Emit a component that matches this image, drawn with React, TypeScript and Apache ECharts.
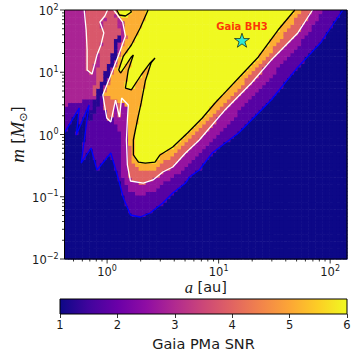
import React, { useEffect, useRef } from 'react';
import * as echarts from 'echarts';

// ---- axis limits ----
const A_MIN = 0.415;
const A_MAX = 141.6;
const M_MIN = 0.01;
const M_MAX = 100;

// ---- contour lines: [a (au), m (Msun)] ----
const contour1 = [
  [130, 100], [81.8, 29.5], [51.3, 12.1], [29.6, 3.58], [15.1, 1.06], [8.75, 0.504],
  [6.71, 0.269], [5.48, 0.208], [5.05, 0.166], [3.88, 0.115], [3.16, 0.0794], [2.43, 0.0548],
  [1.98, 0.0473], [1.62, 0.0509], [1.40, 0.0955], [1.27, 0.186], [1.08, 0.504], [0.811, 0.269],
  [0.718, 0.607], [0.586, 0.348], [0.689, 2.98], [0.529, 0.982], [0.563, 2.67], [0.415, 1.06],
];
const contour3 = [
  [69.5, 100], [51.3, 42.8], [29.6, 15.7], [19.7, 6.72], [11.4, 2.48], [6.71, 0.816],
  [5.05, 0.504], [3.88, 0.301], [3.16, 0.25], [2.58, 0.186], [2.11, 0.166], [1.62, 0.179],
  [1.52, 0.324], [1.49, 0.816], [1.52, 1.71], [1.55, 2.98], [1.35, 3.85], [1.29, 1.91],
  [1.19, 3.58], [1.08, 1.59], [0.994, 1.84], [0.916, 4.31], [1.08, 9.03], [1.27, 18.9],
  [1.46, 38.2], [1.38, 64.1], [1.146, 100],
];
const contour3Loop = [
  [0.623, 100], [0.649, 47.7], [0.662, 22.8], [0.662, 10.9], [0.733, 9.37], [0.811, 18.9],
  [0.880, 27.4], [0.935, 42.8], [0.862, 64.1], [0.954, 80.1], [1.01, 100],
];
const contour6 = [
  [2.33, 100], [1.98, 51.4], [1.65, 27.4], [1.40, 18.2], [1.27, 10.9], [1.32, 9.72],
  [1.46, 12.6], [1.65, 17.6], [1.72, 18.9], [1.55, 10.9], [1.46, 5.58], [1.65, 5.19],
  [2.02, 9.03], [2.43, 14.1], [2.69, 16.9], [2.48, 14.1], [2.20, 7.23], [2.02, 3.21],
  [1.87, 1.71], [1.72, 0.816], [1.72, 0.469], [1.91, 0.361], [2.20, 0.348], [2.69, 0.361],
  [2.98, 0.469], [3.88, 0.63], [5.26, 1.06], [6.19, 1.42], [7.14, 1.84], [9.29, 3.21],
  [15.1, 8.09], [22.7, 17.6], [34.1, 47.7], [48.2, 100],
];
const contour6Small = [[1.22, 100], [1.29, 83.1], [1.46, 80.1], [1.65, 92.9], [1.62, 100]];

// ---- extra colour bands ----
const level2Edge = [
  [86.9, 100], [62.8, 39.7], [37.8, 14.6], [25.2, 5.79], [14.8, 2.21], [8.75, 0.816],
  [6.45, 0.469], [4.75, 0.269], [3.72, 0.2], [2.86, 0.138], [2.20, 0.111], [1.65, 0.115],
  [1.38, 0.2], [1.29, 0.563], [1.29, 1.18], [0.916, 4.31], [1.08, 9.03], [1.27, 18.9],
  [1.46, 38.2], [1.38, 64.1], [1.146, 100],
];
const level5Edge = [
  [56.7, 100], [41.0, 47.7], [27.3, 17.6], [18.2, 8.09], [11.2, 3.21], [8.40, 1.84],
  [7.14, 1.37], [6.07, 0.982], [4.47, 0.563], [3.36, 0.389], [2.86, 0.29], [2.20, 0.259],
  [1.83, 0.29], [1.62, 0.419], [1.59, 0.816], [1.55, 2.67], [1.15, 3.85], [0.954, 4.47],
  [1.10, 9.03], [1.29, 18.2], [1.49, 36.8], [1.40, 64.1], [1.17, 100],
];
const upperLeftEdge = [
  [A_MIN, 100], [1.76, 100], [1.46, 38.2], [1.27, 18.9], [1.08, 9.03], [0.916, 4.31],
  [0.623, 3.58], [A_MIN, 2.98],
];
const brightStripeEdge = [
  [1.01, 100], [1.146, 100], [1.32, 41.1], [1.19, 33.0], [1.08, 18.2], [0.779, 4.0],
  [0.733, 4.15], [0.811, 9.03], [0.88, 22.8], [0.935, 39.7], [0.954, 69.1],
];
const darkStripeEdge = [
  [0.649, 1.59], [0.779, 4.0], [1.08, 18.2], [1.19, 33.0], [1.32, 41.1], [1.22, 18.2],
  [0.88, 4.0], [0.733, 1.71],
];
// SNR value of each band, in drawing order (estimated from the colours)
const bandSNR = [1.75, 2.9, 2.6, 3.7, 1.25, 3.8, 4.0, 5.1, 6.3, 6.3];

// ---- marks / labels ----
const gaiaBH3 = [16.2, 32.7];
const contourLabels = [
  { value: [35.5, 69.1], text: '6', color: '#000000' },
  { value: [60.3, 41.1], text: '3', color: '#ffffff' },
  { value: [86.9, 24.5], text: '1', color: '#0000ff' },
];
const xMajorTicks = [1, 10, 100];
const xMinorTicks = [0.5, 0.6, 0.7, 0.8, 0.9, 2, 3, 4, 5, 6, 7, 8, 9, 20, 30, 40, 50, 60, 70, 80, 90];
const yMajorTicks = [0.01, 0.1, 1, 10, 100];
const yMinorTicks = [
  0.02, 0.03, 0.04, 0.05, 0.06, 0.07, 0.08, 0.09, 0.2, 0.3, 0.4, 0.5, 0.6, 0.7, 0.8, 0.9,
  2, 3, 4, 5, 6, 7, 8, 9, 20, 30, 40, 50, 60, 70, 80, 90,
];
const cbarMin = 1;
const cbarMax = 6;

// plasma colormap stops
const PLASMA = ['#0d0887', '#41049d', '#6a00a8', '#8f0da4', '#b12a90', '#cc4778', '#e16462', '#f2844b', '#fca636', '#fcce25', '#f0f921'];

function hex(c: string) {
  return [parseInt(c.slice(1, 3), 16), parseInt(c.slice(3, 5), 16), parseInt(c.slice(5, 7), 16)];
}
function plasma(v: number) {
  let t = (v - cbarMin) / (cbarMax - cbarMin);
  t = Math.max(0, Math.min(1, t));
  const f = t * (PLASMA.length - 1);
  const i = Math.min(PLASMA.length - 2, Math.floor(f));
  const r = f - i;
  const a = hex(PLASMA[i]);
  const b = hex(PLASMA[i + 1]);
  const c = a.map((x, k) => Math.round(x + (b[k] - x) * r));
  return `rgb(${c[0]},${c[1]},${c[2]})`;
}

function toLog(poly: number[][]) {
  return poly.map((p) => [Math.log10(p[0]), Math.log10(p[1])]);
}
function inside(poly: number[][], x: number, y: number) {
  let c = false;
  for (let i = 0, j = poly.length - 1; i < poly.length; j = i++) {
    const [xi, yi] = poly[i];
    const [xj, yj] = poly[j];
    if ((yi > y) !== (yj > y) && x < ((xj - xi) * (y - yi)) / (yj - yi) + xi) c = !c;
  }
  return c;
}

function buildCells() {
  const bands = [
    [...contour1, [A_MIN, M_MAX]],
    upperLeftEdge,
    level2Edge,
    brightStripeEdge,
    darkStripeEdge,
    contour3Loop,
    contour3,
    level5Edge,
    contour6,
    contour6Small,
  ].map(toLog);
  const NX = 80;
  const NY = 70;
  const lx0 = Math.log10(A_MIN);
  const lx1 = Math.log10(A_MAX);
  const ly0 = Math.log10(M_MIN);
  const ly1 = Math.log10(M_MAX);
  const cells: number[][] = [];
  for (let i = 0; i < NX; i++) {
    const a0 = lx0 + ((lx1 - lx0) * i) / NX;
    const a1 = lx0 + ((lx1 - lx0) * (i + 1)) / NX;
    for (let j = 0; j < NY; j++) {
      const m0 = ly0 + ((ly1 - ly0) * j) / NY;
      const m1 = ly0 + ((ly1 - ly0) * (j + 1)) / NY;
      const cx = (a0 + a1) / 2;
      const cy = (m0 + m1) / 2;
      let v = cbarMin;
      bands.forEach((b, k) => {
        if (inside(b, cx, cy)) v = bandSNR[k];
      });
      cells.push([Math.pow(10, a0), Math.pow(10, a1), Math.pow(10, m0), Math.pow(10, m1), v]);
    }
  }
  return cells;
}

const TXT = '#1a1a1a';
const tickRich = {
  b: { fontSize: 11.5, fontFamily: 'DejaVu Sans', color: TXT, lineHeight: 14, verticalAlign: 'bottom' },
  s: { fontSize: 8, fontFamily: 'DejaVu Sans', color: TXT, lineHeight: 6, verticalAlign: 'top' },
};
function decadeLabel(v: number) {
  const l = Math.log10(v);
  const e = Math.round(l);
  if (Math.abs(l - e) > 1e-6) return '';
  const s = e < 0 ? '\u2212' + -e : String(e);
  return `{b|10}{s|${s}}`;
}

function tickSeries(values: number[], major: boolean, isX: boolean) {
  return {
    type: 'custom',
    xAxisIndex: 0,
    yAxisIndex: 0,
    silent: true,
    z: 8,
    data: values.map((v) => (isX ? [v, M_MIN] : [A_MIN, v])),
    encode: { x: 0, y: 1 },
    renderItem: (_p: any, api: any) => {
      const p = api.coord([api.value(0), api.value(1)]);
      const len = major ? 4.5 : 2.5;
      return {
        type: 'line',
        shape: isX
          ? { x1: p[0], y1: p[1], x2: p[0], y2: p[1] + len }
          : { x1: p[0], y1: p[1], x2: p[0] - len, y2: p[1] },
        style: { stroke: '#000', lineWidth: 0.8 },
      };
    },
  };
}

function contourLine(data: number[][], color: string) {
  return {
    type: 'line',
    xAxisIndex: 0,
    yAxisIndex: 0,
    data,
    symbol: 'none',
    silent: true,
    z: 4,
    lineStyle: { color, width: 1.3 },
  };
}

export default function App() {
  const ref = useRef<HTMLDivElement>(null);
  useEffect(() => {
    const chart = echarts.init(ref.current!, null, { renderer: 'svg' });
    const cells = buildCells();
    const option: any = {
      animation: false,
      backgroundColor: '#ffffff',
      grid: [
        { left: 60, top: 10, width: 287, height: 249 },
        { left: 60, top: 299, width: 287, height: 15 },
      ],
      xAxis: [
        {
          type: 'log',
          gridIndex: 0,
          min: A_MIN,
          max: A_MAX,
          axisLine: { show: false },
          axisTick: { show: false },
          splitLine: { show: false },
          axisLabel: { formatter: decadeLabel, rich: tickRich, margin: 5, showMinLabel: false, showMaxLabel: false },
          name: '{i|a} [au]',
          nameLocation: 'middle',
          nameGap: 21,
          nameMoveOverlap: false,
          nameTextStyle: {
            fontSize: 14.5,
            lineHeight: 14,
            fontFamily: 'DejaVu Sans',
            color: TXT,
            rich: { i: { fontFamily: 'Liberation Serif', fontStyle: 'italic', fontSize: 16.5, lineHeight: 14, color: TXT } },
          },
        },
        {
          type: 'value',
          gridIndex: 1,
          min: cbarMin,
          max: cbarMax,
          interval: 1,
          axisLine: { show: false },
          axisTick: { show: true, length: 4, lineStyle: { color: '#000', width: 0.8 } },
          splitLine: { show: false },
          axisLabel: { fontSize: 11.5, fontFamily: 'DejaVu Sans', color: TXT, margin: 5 },
          name: 'Gaia PMa SNR',
          nameLocation: 'middle',
          nameGap: 22,
          nameMoveOverlap: false,
          nameTextStyle: { fontSize: 14.5, fontFamily: 'DejaVu Sans', color: TXT },
        },
      ],
      yAxis: [
        {
          type: 'log',
          gridIndex: 0,
          min: M_MIN,
          max: M_MAX,
          axisLine: { show: false },
          axisTick: { show: false },
          splitLine: { show: false },
          axisLabel: { formatter: decadeLabel, rich: tickRich, margin: 6 },
          name: '{i|m} {r|[}{i|M}{s|\u2299}{r|]}',
          nameLocation: 'middle',
          nameGap: 36,
          nameMoveOverlap: false,
          nameRotate: 90,
          nameTextStyle: {
            fontSize: 16,
            fontFamily: 'DejaVu Sans',
            color: TXT,
            rich: {
              i: { fontFamily: 'Liberation Serif', fontStyle: 'italic', fontSize: 19, color: TXT, lineHeight: 22 },
              r: { fontFamily: 'DejaVu Sans', fontSize: 16, color: TXT, lineHeight: 22 },
              s: { fontFamily: 'DejaVu Sans', fontSize: 11, color: TXT, lineHeight: 10, verticalAlign: 'bottom' },
            },
          },
        },
        { type: 'value', gridIndex: 1, min: 0, max: 1, show: false },
      ],
      series: [
        {
          type: 'custom',
          xAxisIndex: 0,
          yAxisIndex: 0,
          silent: true,
          z: 1,
          data: cells,
          encode: { x: [0, 1], y: [2, 3] },
          renderItem: (_p: any, api: any) => {
            const p0 = api.coord([api.value(0), api.value(2)]);
            const p1 = api.coord([api.value(1), api.value(3)]);
            return {
              type: 'rect',
              shape: { x: p0[0], y: p1[1], width: p1[0] - p0[0] + 0.6, height: p0[1] - p1[1] + 0.6 },
              style: { fill: plasma(api.value(4)) },
            };
          },
        },
        contourLine(contour1, '#0000ff'),
        contourLine(contour3, '#ffffff'),
        contourLine(contour3Loop, '#ffffff'),
        contourLine(contour6, '#000000'),
        contourLine(contour6Small, '#000000'),
        {
          type: 'scatter',
          xAxisIndex: 0,
          yAxisIndex: 0,
          silent: true,
          z: 5,
          symbolSize: 1,
          itemStyle: { opacity: 0 },
          data: contourLabels.map((c) => ({
            value: c.value,
            label: {
              show: true,
              position: 'inside',
              formatter: c.text,
              color: c.color,
              fontSize: 12,
              fontFamily: 'DejaVu Serif',
            },
          })),
        },
        {
          type: 'scatter',
          xAxisIndex: 0,
          yAxisIndex: 0,
          silent: true,
          z: 6,
          symbol: 'path://M50,0 L61.8,35.1 L98.9,35.1 L69.1,56.7 L80.3,91.9 L50,70.1 L19.7,91.9 L30.9,56.7 L1.1,35.1 L38.2,35.1 Z',
          symbolSize: [15, 14],
          itemStyle: { color: '#00e5ff', borderColor: '#000', borderWidth: 0.8 },
          data: [gaiaBH3],
          label: {
            show: true,
            position: 'top',
            distance: 1,
            formatter: 'Gaia BH3',
            color: '#ff0000',
            fontWeight: 'bold',
            fontSize: 10,
            fontFamily: 'DejaVu Sans',
          },
        },
        tickSeries(xMajorTicks, true, true),
        tickSeries(xMinorTicks, false, true),
        tickSeries(yMajorTicks, true, false),
        tickSeries(yMinorTicks, false, false),
        {
          type: 'custom',
          xAxisIndex: 0,
          yAxisIndex: 0,
          silent: true,
          z: 9,
          data: [[A_MIN, M_MIN, A_MAX, M_MAX]],
          encode: { x: [0, 2], y: [1, 3] },
          renderItem: (_p: any, api: any) => {
            const a = api.coord([api.value(0), api.value(1)]);
            const b = api.coord([api.value(2), api.value(3)]);
            return {
              type: 'rect',
              shape: { x: a[0], y: b[1], width: b[0] - a[0], height: a[1] - b[1] },
              style: { fill: 'none', stroke: '#000', lineWidth: 1 },
            };
          },
        },
        {
          type: 'custom',
          xAxisIndex: 1,
          yAxisIndex: 1,
          silent: true,
          z: 2,
          data: [[cbarMin, 0, cbarMax, 1]],
          encode: { x: [0, 2], y: [1, 3] },
          renderItem: (_p: any, api: any) => {
            const a = api.coord([api.value(0), api.value(1)]);
            const b = api.coord([api.value(2), api.value(3)]);
            return {
              type: 'rect',
              shape: { x: a[0], y: b[1], width: b[0] - a[0], height: a[1] - b[1] },
              style: {
                fill: new echarts.graphic.LinearGradient(
                  0, 0, 1, 0,
                  PLASMA.map((c, k) => ({ offset: k / (PLASMA.length - 1), color: c })),
                ),
                stroke: '#000',
                lineWidth: 1,
              },
            };
          },
        },
      ],
    };
    chart.setOption(option);
    return () => chart.dispose();
  }, []);
  return (
    <div
      ref={ref}
      style={{ position: 'fixed', left: 0, top: 0, width: 357, height: 358, background: '#fff' }}
    />
  );
}
